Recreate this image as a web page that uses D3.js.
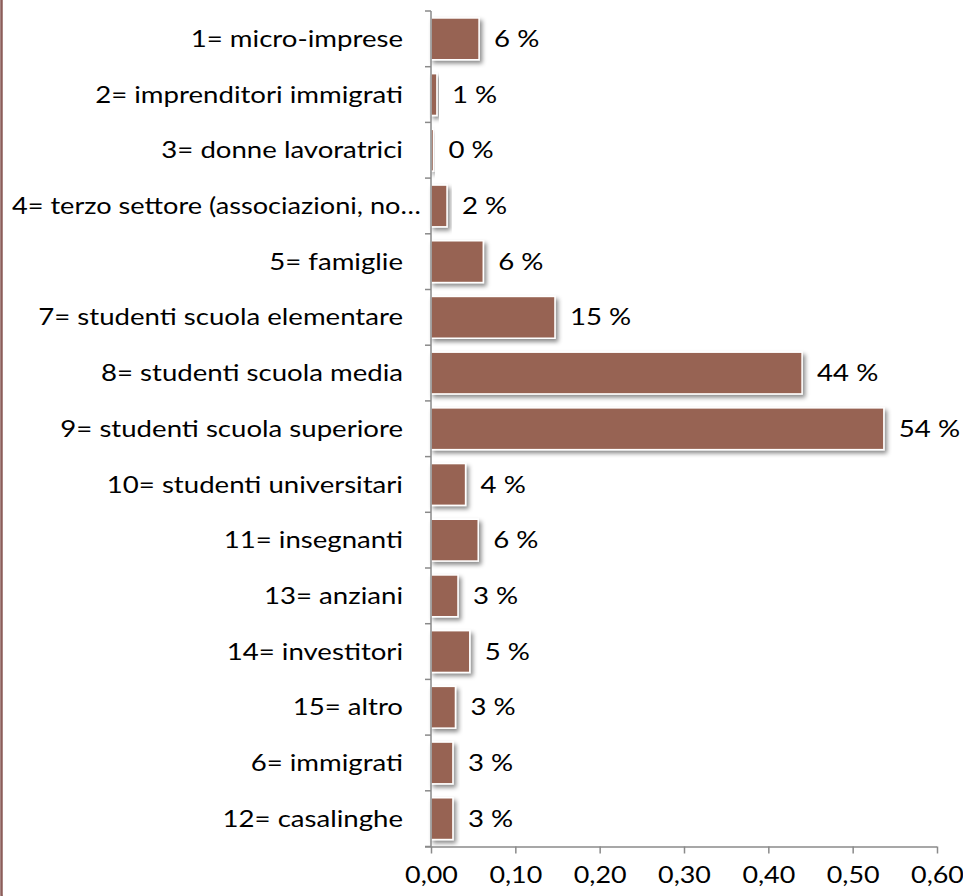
<!DOCTYPE html>
<html>
<head>
<meta charset="utf-8">
<script src="https://cdn.jsdelivr.net/npm/d3@7/dist/d3.min.js"></script>
<style>
  html, body { margin: 0; padding: 0; background: #fff; }
  svg { display: block; }
  text { font-family: Lato, "Open Sans", sans-serif; fill: #000; }
</style>
</head>
<body>
<svg id="chart" width="963" height="896"></svg>
<script>
// Target groups (in display order, top to bottom)
const categories = [
  "1= micro-imprese",
  "2= imprenditori immigrati",
  "3= donne lavoratrici",
  "4= terzo settore (associazioni, no…",
  "5= famiglie",
  "7= studenti scuola elementare",
  "8= studenti scuola media",
  "9= studenti scuola superiore",
  "10= studenti universitari",
  "11= insegnanti",
  "13= anziani",
  "14= investitori",
  "15= altro",
  "6= immigrati",
  "12= casalinghe"
];

// Share of respondents per group
const shares = [0.057, 0.007, 0.003, 0.019, 0.062, 0.147, 0.440, 0.537, 0.041, 0.056, 0.032, 0.046, 0.029, 0.026, 0.026];

// Horizontal axis ticks
const xTicks = [0, 0.1, 0.2, 0.3, 0.4, 0.5, 0.6];

const data = categories.map((c, i) => ({ cat: c, v: shares[i] }));

const svg = d3.select("#chart");
const W = 963, H = 896;

// Rounded frame (mostly outside the visible area)
svg.append("rect")
  .attr("x", 1.5).attr("y", -30)
  .attr("width", W + 40).attr("height", H + 12 + 30)
  .attr("rx", 14).attr("ry", 14)
  .attr("fill", "none")
  .attr("stroke", "#8c5d5a")
  .attr("stroke-width", 2.5);

const defs = svg.append("defs");
const f = defs.append("filter").attr("id", "shadow")
  .attr("x", "-20%").attr("y", "-20%").attr("width", "150%").attr("height", "160%");
f.append("feDropShadow")
  .attr("dx", 2.5).attr("dy", 3)
  .attr("stdDeviation", 2)
  .attr("flood-color", "#000")
  .attr("flood-opacity", 0.45);

const x = d3.scaleLinear().domain([0, 0.6]).range([431, 937]);
const y = d3.scaleBand().domain(categories).range([11, 846.5])
  .paddingInner(0.25).paddingOuter(0.125);

const axisColor = "#8a8a8a";
const fontSize = 23;
const sx = 1.2;   // horizontal text stretch

// Bars
svg.append("g").selectAll("rect")
  .data(data).join("rect")
  .attr("x", x(0))
  .attr("y", d => y(d.cat))
  .attr("width", d => Math.max(0.5, x(d.v) - x(0)))
  .attr("height", y.bandwidth())
  .attr("fill", "#976352")
  .attr("stroke", "#ffffff")
  .attr("stroke-width", 1.5)
  .attr("filter", "url(#shadow)");

// Vertical category axis with ticks on band boundaries
const gy = svg.append("g");
const yTop = y.range()[0], yBot = y.range()[1];
gy.append("line")
  .attr("x1", x(0)).attr("x2", x(0))
  .attr("y1", yTop).attr("y2", yBot)
  .attr("stroke", axisColor).attr("stroke-width", 1.5);
const boundaries = d3.range(categories.length + 1).map(i => yTop + i * y.step());
gy.selectAll("line.tick").data(boundaries).join("line")
  .attr("class", "tick")
  .attr("x1", x(0) - 6).attr("x2", x(0))
  .attr("y1", d => d).attr("y2", d => d)
  .attr("stroke", axisColor).attr("stroke-width", 1.5);

// Category labels; a label too long for the margin is squeezed to fit
const labelRight = 403;
const labelLeft = 12;
const longRight = 421;
const labels = svg.append("g").selectAll("text")
  .data(data).join("text")
  .attr("dy", "0.35em")
  .attr("font-size", fontSize)
  .text(d => d.cat);
labels.each(function (d) {
  const t = d3.select(this);
  const raw = this.getComputedTextLength();
  const cy = y(d.cat) + y.bandwidth() / 2;
  if (raw * sx > labelRight - labelLeft) {
    const s = Math.min(sx, (longRight - labelLeft) / raw);
    t.attr("text-anchor", "start")
     .attr("transform", `translate(${labelLeft},${cy}) scale(${s},1)`);
  } else {
    t.attr("text-anchor", "end")
     .attr("transform", `translate(${labelRight},${cy}) scale(${sx},1)`);
  }
});

// Value labels
svg.append("g").selectAll("text")
  .data(data).join("text")
  .attr("transform", d => `translate(${x(d.v) + 15},${y(d.cat) + y.bandwidth() / 2}) scale(${sx},1)`)
  .attr("dy", "0.35em")
  .attr("font-size", fontSize)
  .text(d => Math.round(d.v * 100) + " %");

// Horizontal value axis
const gx = svg.append("g")
  .attr("transform", `translate(0,${yBot})`)
  .call(d3.axisBottom(x)
    .tickValues(xTicks)
    .tickSize(7)
    .tickSizeOuter(0)
    .tickPadding(12)
    .tickFormat(d => d.toFixed(2).replace(".", ",")));
gx.select(".domain")
  .attr("d", `M${x(0) - 6},0.5H${x(0.6)}`)
  .attr("stroke", axisColor).attr("stroke-width", 1.5);
gx.selectAll(".tick line").attr("stroke", axisColor).attr("stroke-width", 1.5);
gx.selectAll(".tick text")
  .attr("font-size", 24)
  .attr("font-family", "Lato, 'Open Sans', sans-serif")
  .attr("fill", "#000")
  .attr("transform", "scale(1.12,1)");
</script>
</body>
</html>
